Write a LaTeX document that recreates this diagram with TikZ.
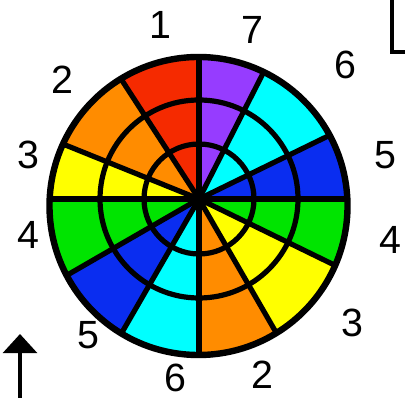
\documentclass[tikz,border=0pt]{standalone}
\usepackage{fontspec}
\setmainfont{Liberation Sans}
\usetikzlibrary{arrows.meta}
\definecolor{wred}{RGB}{245,42,0}
\definecolor{worange}{RGB}{255,140,0}
\definecolor{wyellow}{RGB}{255,255,0}
\definecolor{wgreen}{RGB}{0,228,0}
\definecolor{wblue}{RGB}{10,45,240}
\definecolor{wcyan}{RGB}{0,255,255}
\definecolor{wpurple}{RGB}{150,60,255}
\tikzset{
    num/.style={font=\fontsize{28pt}{30pt}\selectfont, inner sep=0pt},
    grid/.style={black, line width=0.13cm}
}
\begin{document}
\begin{tikzpicture}[x=0.025cm, y=0.025cm]
        \useasboundingbox (0,0) rectangle (405,398);
        \coordinate (c) at (199,199);
        \coordinate (o) at (198.5,192);
        \begin{scope}
            \clip (o) circle (149);
            \foreach \a / \b / \col in {0/26/wblue,26/63/wcyan,63/90/wpurple,90/123/wred,123/158/worange,158/180/wyellow,180/210/wgreen,210/240/wblue,240/270/wcyan,270/300/worange,300/334/wyellow,334/360/wgreen}
            {
                \fill[\col] (c) -- ++(\a:220) arc[start angle=\a, end angle=\b, radius=220] -- cycle;
            }
            \foreach \a in {0,26,63,90,123,158,180,210,240,270,300,334}
            {
                \draw[grid] (c) -- ++(\a:220);
            }
            \draw[grid] (c) circle (55);
            \draw[grid] (c) circle (99);
        \end{scope}
        \draw[black, line width=0.16cm] (o) circle (149);
        \foreach \px / \py / \lab [count=\i] in {160/373/1,252/368/7,345/333/6,385/243/5,390/158/4,352/75/3,262/23/2,175/20/6,88/63/5,28/163/4,28/243/3,62/318/2}
        {
            \node[num] (lab\i) at (\px,\py) {\lab};
        }
        \coordinate (arrbot) at (20,0);
        \coordinate (arrtop) at (20,64);
        \draw[black, line width=0.1cm, -{Triangle[width=0.85cm,length=0.48cm]}] (arrbot) -- (arrtop);
        \coordinate (ltop) at (392,400);
        \coordinate (lmid) at (392,346);
        \coordinate (lend) at (407,346);
        \draw[black, line width=0.1cm] (ltop) -- (lmid) -- (lend);
    \end{tikzpicture}
\end{document}
